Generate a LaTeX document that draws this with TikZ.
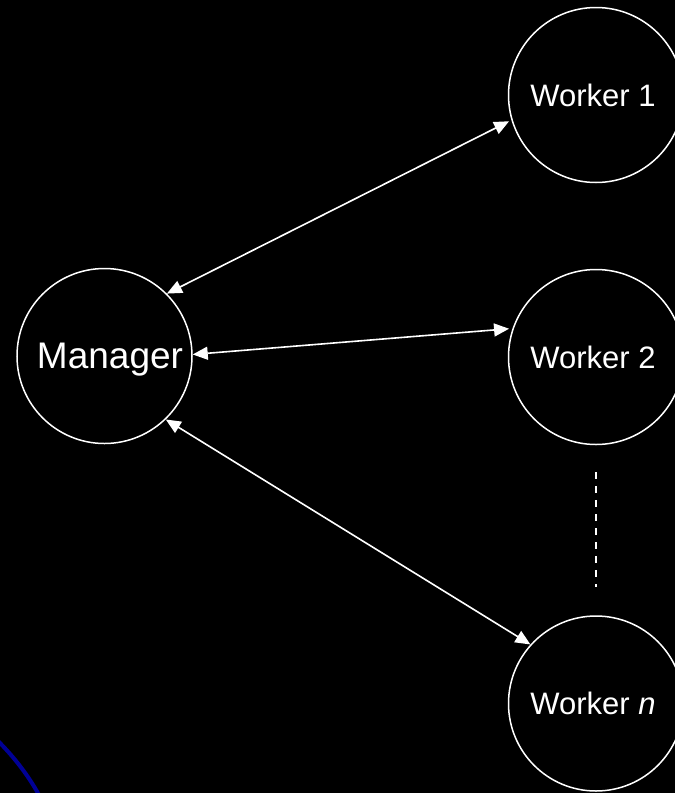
\documentclass[tikz,border=0pt]{standalone}
\usepackage{fontspec}
\setmainfont{Liberation Sans}
\usetikzlibrary{arrows.meta}
\definecolor{edgeblue}{RGB}{0,0,150}
\tikzset{
  proc/.style={circle, draw=white, line width=1.5pt, minimum size=175pt,
    inner sep=0pt, text=white, text depth=0pt},
  mgrfont/.style={font=\fontsize{37}{40}\selectfont},
  wkfont/.style={font=\fontsize{31}{34}\selectfont},
  link/.style={white, line width=1.6pt,
    {Triangle[length=15pt,width=13pt]}-{Triangle[length=15pt,width=13pt]}},
  gap/.style={white, line width=1.5pt, dash pattern=on 7pt off 7pt}
}
\begin{document}
\begin{tikzpicture}[x=1pt,y=-1pt]
  % canvas
  \fill[black] (0,0) rectangle (675,793);
  \useasboundingbox (0,0) rectangle (675,793);

  % blue stroke in the lower left corner
  \draw[edgeblue, line width=4pt] (-2,741) .. controls (14,757) and (28,775) .. (39,795);

  % processes
  \node[proc, mgrfont] (M)  at (104.5,356) {\hspace*{11pt}Manager};
  \node[proc, wkfont]  (W1) at (596,95)    {Worker 1\hspace*{6pt}};
  \node[proc, wkfont]  (W2) at (596,357)   {Worker 2\hspace*{6pt}};
  \node[proc, wkfont]  (Wn) at (596,703.5) {Worker \textit{n}\hspace*{6pt}};

  % message channels
  \draw[link] (M.45)  -- ([shift={(-3pt,1pt)}]W1.198);
  \draw[link] (M.1)   -- ([shift={(-3pt,1pt)}]W2.162);
  \draw[link] (M.-46) -- (Wn.138);

  % further workers
  \draw[gap] ([yshift=-27pt]W2.south) -- ([yshift=28pt]Wn.north);
\end{tikzpicture}
\end{document}
